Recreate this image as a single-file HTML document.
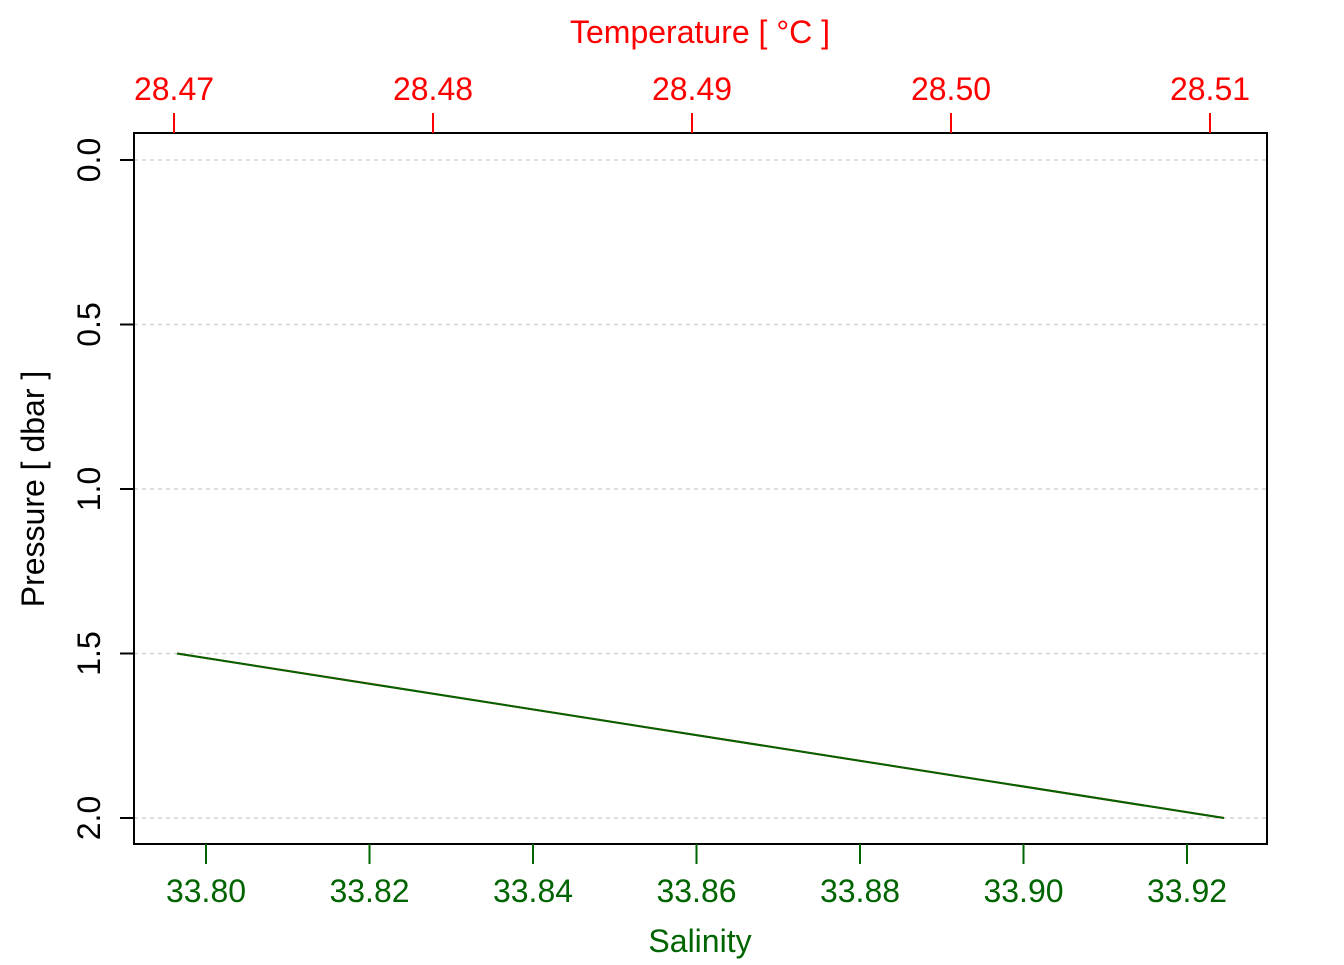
<!DOCTYPE html>
<html><head><meta charset="utf-8"><style>
body{margin:0;background:#fff}
svg text{font-family:"Liberation Sans",Arial,sans-serif}
</style></head><body>
<svg id="chart" width="1344" height="960" xmlns="http://www.w3.org/2000/svg">
<rect x="0" y="0" width="1344" height="960" fill="#fff"/>
<g id="grid"></g>
<g id="marks"></g>
<rect x="134" y="133" width="1133" height="711" fill="none" stroke="#000" stroke-width="2"/>
<g id="axes"></g>
<text x="700" y="952" font-size="32" fill="#006400" text-anchor="middle">Salinity</text>
<text x="700" y="43" font-size="32" fill="#ff0000" text-anchor="middle">Temperature [ °C ]</text>
<text transform="translate(44,489) rotate(-90)" font-size="32" fill="#000" text-anchor="middle">Pressure [ dbar ]</text>
</svg>
<script>
const pressure=[1.5,2.0];
const salinity=[33.79645,33.92453];
const temperature=[28.47012,28.51054];
const salTicks=[33.80,33.82,33.84,33.86,33.88,33.90,33.92];
const tempTicks=[28.47,28.48,28.49,28.50,28.51];
const presTicks=[0.0,0.5,1.0,1.5,2.0];
const sx=v=>206+(v-33.80)*8175;
const tx=v=>174+(v-28.47)*25900;
const py=v=>160+v*329;
const NS="http://www.w3.org/2000/svg";
function mk(tag,attrs,parent){const e=document.createElementNS(NS,tag);for(const k in attrs)e.setAttribute(k,attrs[k]);document.getElementById(parent).appendChild(e);return e;}
presTicks.forEach(p=>{
  const g=mk('line',{x1:134,x2:1267,y1:py(p),y2:py(p),stroke:'#d3d3d3','stroke-width':1.5,'stroke-dasharray':'4,4'},'grid');
  
  
  const t=mk('line',{x1:120,x2:134,y1:py(p),y2:py(p),stroke:'#000','stroke-width':2},'axes');
  
  
  const l=mk('text',{transform:`translate(100,${py(p)}) rotate(-90)`,'font-size':32,'text-anchor':'middle',fill:'#000'},'axes');
  l.textContent=p.toFixed(1);
  
  
});
salTicks.forEach(s=>{
  const t=mk('line',{x1:sx(s),x2:sx(s),y1:844,y2:864,stroke:'#006400','stroke-width':2},'axes');
  
  
  const l=mk('text',{x:sx(s),y:902,'font-size':32,'text-anchor':'middle',fill:'#006400'},'axes');
  l.textContent=s.toFixed(2);
  
  
});
tempTicks.forEach(s=>{
  const t=mk('line',{x1:tx(s),x2:tx(s),y1:113,y2:133,stroke:'#ff0000','stroke-width':2},'axes');
  
  
  const l=mk('text',{x:tx(s),y:100,'font-size':32,'text-anchor':'middle',fill:'#ff0000'},'axes');
  l.textContent=s.toFixed(2);
  
  
});
const tl=mk('polyline',{points:pressure.map((p,i)=>tx(temperature[i])+','+py(p)).join(' '),fill:'none',stroke:'#ff0000','stroke-width':2},'marks');


const sl=mk('polyline',{points:pressure.map((p,i)=>sx(salinity[i])+','+py(p)).join(' '),fill:'none',stroke:'#006400','stroke-width':2},'marks');


</script>
</body></html>
